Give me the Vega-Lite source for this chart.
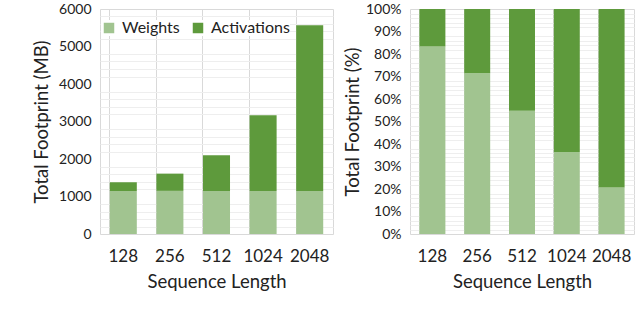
{
  "$schema": "https://vega.github.io/schema/vega-lite/v6.json",
  "padding": {"left": 32, "top": 1, "right": 2, "bottom": 0},
  "spacing": 8,
  "background": "white",
  "config": {
    "font": "Lato",
    "view": {"stroke": "#d9d9d9", "strokeWidth": 1},
    "axis": {
      "labelFont": "Lato", "titleFont": "Lato",
      "labelColor": "#222", "titleColor": "#222",
      "titleFontWeight": "normal",
      "ticks": false, "domain": false
    }
  },
  "datasets": {
    "mem": [
      {"seq": "128", "type": "Weights", "value": 1150},
      {"seq": "128", "type": "Activations", "value": 230},
      {"seq": "256", "type": "Weights", "value": 1150},
      {"seq": "256", "type": "Activations", "value": 460},
      {"seq": "512", "type": "Weights", "value": 1150},
      {"seq": "512", "type": "Activations", "value": 950},
      {"seq": "1024", "type": "Weights", "value": 1150},
      {"seq": "1024", "type": "Activations", "value": 2015},
      {"seq": "2048", "type": "Weights", "value": 1150},
      {"seq": "2048", "type": "Activations", "value": 4420}
    ]
  },
  "hconcat": [
    {
      "width": 233,
      "height": 225,
      "data": {"name": "mem"},
      "layer": [
        {
          "mark": {"type": "bar", "opacity": 0},
          "encoding": {
            "x": {"field": "seq", "type": "ordinal", "sort": null,
              "scale": {"paddingInner": 0.42, "paddingOuter": 0.21},
              "axis": {"title": "Sequence Length", "labelAngle": 0, "labelFontSize": 17, "titleFontSize": 18.5,
                "labelPadding": 14, "titlePadding": 8, "grid": true, "bandPosition": 0, "gridColor": "#d9d9d9"}},
            "y": {"field": "value", "type": "quantitative", "aggregate": "sum", "scale": {"domain": [0, 6000]},
              "axis": {"orient": "left", "labels": false, "title": null, "gridColor": "#eeeeee",
                "values": [200,400,600,800,1200,1400,1600,1800,2200,2400,2600,2800,3200,3400,3600,3800,4200,4400,4600,4800,5200,5400,5600,5800]}}
          }
        },
        {
          "mark": {"type": "bar"},
          "encoding": {
            "x": {"field": "seq", "type": "ordinal", "sort": null,
              "scale": {"paddingInner": 0.42, "paddingOuter": 0.21},
              "axis": {"title": "Sequence Length", "labelAngle": 0, "labelFontSize": 17, "titleFontSize": 18.5,
                "labelPadding": 14, "titlePadding": 8, "grid": true, "bandPosition": 0, "gridColor": "#d9d9d9"}},
            "y": {"field": "value", "type": "quantitative", "stack": "zero", "scale": {"domain": [0, 6000]},
              "axis": {"orient": "left", "title": "Total Footprint (MB)", "format": "d", "values": [0,1000,2000,3000,4000,5000,6000],
                "labelFontSize": 14, "titleFontSize": 18.5, "labelPadding": 9, "titlePadding": 7, "gridColor": "#d9d9d9"}},
            "color": {"field": "type", "type": "nominal",
              "scale": {"domain": ["Weights", "Activations"], "range": ["#a1c490", "#5e9a3c"]},
              "legend": {"title": null, "orient": "none", "legendX": 1, "legendY": 11, "direction": "horizontal",
                "symbolType": "square", "symbolSize": 110, "symbolStrokeWidth": 0, "labelFontSize": 16, "labelColor": "#222",
                "columnPadding": 10, "labelOffset": 5, "fillColor": "white"}},
            "order": {"field": "type", "sort": "descending"}
          }
        }
      ],
      "resolve": {"axis": {"y": "independent"}}
    },
    {
      "width": 224,
      "height": 225,
      "data": {"name": "mem"},
      "layer": [
        {
          "mark": {"type": "bar", "opacity": 0},
          "encoding": {
            "x": {"field": "seq", "type": "ordinal", "sort": null,
              "scale": {"paddingInner": 0.42, "paddingOuter": 0.21},
              "axis": {"title": "Sequence Length", "labelAngle": 0, "labelFontSize": 17, "titleFontSize": 18.5,
                "labelPadding": 14, "titlePadding": 8, "grid": true, "bandPosition": 0, "gridColor": "#d9d9d9"}},
            "y": {"field": "value", "type": "quantitative", "stack": "normalize", "scale": {"domain": [0, 1]},
              "axis": {"orient": "left", "labels": false, "title": null, "gridColor": "#eeeeee",
                "values": [0.02,0.04,0.06,0.08,0.12,0.14,0.16,0.18,0.22,0.24,0.26,0.28,0.32,0.34,0.36,0.38,0.42,0.44,0.46,0.48,0.52,0.54,0.56,0.58,0.62,0.64,0.66,0.68,0.72,0.74,0.76,0.78,0.82,0.84,0.86,0.88,0.92,0.94,0.96,0.98]}}
          }
        },
        {
          "mark": {"type": "bar"},
          "encoding": {
            "x": {"field": "seq", "type": "ordinal", "sort": null,
              "scale": {"paddingInner": 0.42, "paddingOuter": 0.21},
              "axis": {"title": "Sequence Length", "labelAngle": 0, "labelFontSize": 17, "titleFontSize": 18.5,
                "labelPadding": 14, "titlePadding": 8, "grid": true, "bandPosition": 0, "gridColor": "#d9d9d9"}},
            "y": {"field": "value", "type": "quantitative", "stack": "normalize", "scale": {"domain": [0, 1]},
              "axis": {"orient": "left", "title": "Total Footprint (%)", "format": ".0%", "values": [0,0.1,0.2,0.3,0.4,0.5,0.6,0.7,0.8,0.9,1],
                "labelFontSize": 14, "titleFontSize": 18.5, "labelPadding": 9, "titlePadding": 3, "gridColor": "#d9d9d9"}},
            "color": {"field": "type", "type": "nominal",
              "scale": {"domain": ["Weights", "Activations"], "range": ["#a1c490", "#5e9a3c"]},
              "legend": null},
            "order": {"field": "type", "sort": "descending"}
          }
        }
      ],
      "resolve": {"axis": {"y": "independent"}}
    }
  ],
  "resolve": {"scale": {"color": "shared"}}
}
